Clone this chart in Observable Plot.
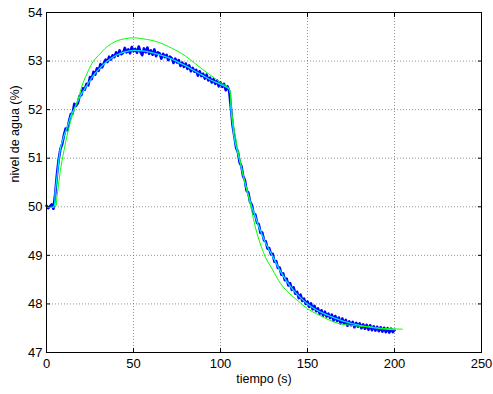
<!DOCTYPE html>
<html>
<head>
<meta charset="utf-8">
<script src="https://cdn.jsdelivr.net/npm/d3@7"></script>
<script src="https://cdn.jsdelivr.net/npm/@observablehq/plot@0.6"></script>
<style>
  html, body { margin: 0; padding: 0; background: #fff; }
</style>
</head>
<body>
<div id="chart"></div>
<script>
// Measured water level (noisy), one sample per second, t = 0..200
const measuredStart = 0;
const measured = [
  50.02,49.97,50.01,50.05,49.96,50.26,50.66,50.98,51.19,51.29,
  51.47,51.61,51.58,51.77,51.91,51.92,52.12,52.08,52.13,52.28,
  52.30,52.44,52.41,52.53,52.50,52.67,52.63,52.78,52.72,52.85,
  52.80,52.94,52.87,52.96,53.03,52.98,53.09,53.03,53.12,53.08,
  53.18,53.11,53.22,53.14,53.17,53.27,53.18,53.24,53.16,53.29,
  53.20,53.25,53.17,53.30,53.19,53.12,53.26,53.18,53.28,53.15,
  53.22,53.13,53.24,53.10,53.18,53.16,53.05,53.15,53.08,53.13,
  53.02,53.09,53.06,52.96,53.05,52.97,53.02,52.90,52.97,52.88,
  52.95,52.84,52.91,52.79,52.86,52.78,52.82,52.70,52.79,52.69,
  52.74,52.64,52.72,52.60,52.66,52.56,52.63,52.53,52.60,52.48,
  52.56,52.47,52.53,52.40,52.48,52.38,52.03,51.66,51.44,51.21,
  51.13,50.91,50.84,50.63,50.55,50.33,50.29,50.10,50.04,49.86,
  49.84,49.67,49.64,49.46,49.47,49.31,49.29,49.14,49.15,49.02,
  49.03,48.87,48.88,48.74,48.75,48.60,48.63,48.49,48.52,48.38,
  48.43,48.29,48.34,48.21,48.25,48.12,48.19,48.06,48.11,48.00,
  48.05,47.94,48.01,47.89,47.96,47.85,47.91,47.80,47.87,47.76,
  47.84,47.74,47.80,47.71,47.78,47.66,47.75,47.65,47.72,47.60,
  47.70,47.59,47.67,47.55,47.64,47.56,47.63,47.52,47.61,47.53,
  47.60,47.50,47.58,47.49,47.57,47.47,47.56,47.46,47.54,47.45,
  47.53,47.44,47.52,47.43,47.51,47.42,47.50,47.41,47.49,47.42,
  47.46
];

// Filtered (smoothed) measurement
const filteredT = [0,4,5,6,8,10,12,14,16,18,20,22,25,28,30,35,40,45,50,55,60,65,70,75,80,85,90,95,100,105,106,107,108,110,112,114,116,118,120,123,126,130,134,138,142,146,150,155,160,165,170,175,180,185,190,195,200];
const filteredY = [50.0,50.0,50.3,50.6,51.2,51.45,51.65,51.87,52.02,52.18,52.32,52.43,52.6,52.75,52.83,53.0,53.12,53.19,53.22,53.21,53.18,53.13,53.07,52.99,52.9,52.8,52.7,52.6,52.52,52.42,52.0,51.7,51.4,51.1,50.8,50.5,50.25,50.0,49.8,49.5,49.25,48.98,48.7,48.47,48.28,48.13,48.0,47.88,47.79,47.72,47.65,47.6,47.56,47.53,47.5,47.48,47.47];

// Model response
const modelT = [0,5,6,8,10,12,14,16,18,21,24,27,30,35,40,45,50,55,60,65,70,75,80,85,90,95,100,105,106,107,109,111,114,117,121,126,130,134.5,138,142,146,150,155,160,165,170,175,180,185,192,198,204.5];
const modelY = [50.0,50.0,50.2,50.75,51.15,51.5,51.78,52.0,52.2,52.55,52.8,53.0,53.12,53.3,53.41,53.46,53.48,53.46,53.43,53.38,53.3,53.21,53.1,52.96,52.82,52.69,52.56,52.43,52.15,51.8,51.35,51.0,50.5,50.07,49.45,48.95,48.7,48.42,48.27,48.14,48.02,47.9,47.8,47.71,47.63,47.58,47.56,47.54,47.53,47.5,47.49,47.48];

const xTicks = [0, 50, 100, 150, 200, 250];
const yTicks = [47, 48, 49, 50, 51, 52, 53, 54];
const xLabel = "tiempo (s)";
const yLabel = "nivel de agua (%)";

const measuredData = measured.map((v, i) => ({t: measuredStart + i, y: v}));
const filteredData = filteredT.map((t, i) => ({t, y: filteredY[i]}));
const modelData = modelT.map((t, i) => ({t, y: modelY[i]}));

const gridStyle = {stroke: "#555", strokeOpacity: 0.8, strokeWidth: 0.8, strokeDasharray: "1,2"};

const chart = Plot.plot({
  width: 493,
  height: 394,
  marginLeft: 46,
  marginRight: 12,
  marginTop: 12,
  marginBottom: 42,
  style: {fontFamily: "'Liberation Sans', Arial, sans-serif", fontSize: "13px", background: "#fff", color: "#000"},
  x: {domain: [0, 250]},
  y: {domain: [47, 54]},
  marks: [
    Plot.gridX(xTicks, gridStyle),
    Plot.gridY(yTicks, gridStyle),
    Plot.line(measuredData, {x: "t", y: "y", stroke: "#0000ff", strokeWidth: 2.6}),
    Plot.line(filteredData, {x: "t", y: "y", stroke: "#00e5ff", strokeWidth: 1.3, curve: "catmull-rom"}),
    Plot.line(modelData, {x: "t", y: "y", stroke: "#00ff00", strokeWidth: 1, curve: "catmull-rom"}),
    Plot.axisX(xTicks, {anchor: "bottom", tickSize: -4, tickPadding: 10, label: null, fontSize: 13}),
    Plot.axisX(xTicks, {anchor: "top", tickSize: -4, tickFormat: () => "", label: null}),
    Plot.axisY(yTicks, {anchor: "left", tickSize: -4, tickPadding: 8, label: null, fontSize: 13}),
    Plot.axisY(yTicks, {anchor: "right", tickSize: -4, tickFormat: () => "", label: null}),
    Plot.frame({stroke: "#000", strokeWidth: 1}),
    Plot.text([xLabel], {frameAnchor: "bottom", dy: 30, text: d => d, fontSize: 12.5}),
    Plot.text([yLabel], {frameAnchor: "left", dx: -32, rotate: -90, text: d => d, fontSize: 12.5})
  ]
});
document.getElementById("chart").append(chart);
</script>
</body>
</html>
